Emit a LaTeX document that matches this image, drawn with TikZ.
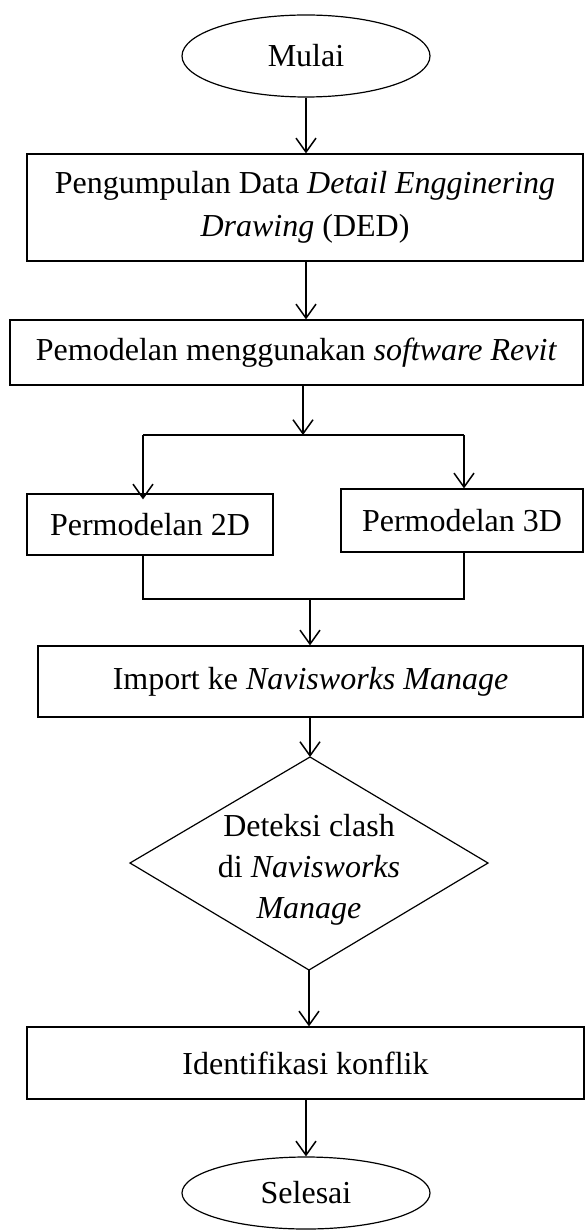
\documentclass[tikz,border=0pt]{standalone}
\usepackage{fontspec}
\setmainfont{Liberation Serif}
\usetikzlibrary{arrows.meta,shapes.geometric}
\begin{document}
\begin{tikzpicture}[x=1pt,y=-1pt,
  every node/.style={font=\fontsize{32}{43}\selectfont},
  procbox/.style={draw,line width=1.2pt,rectangle,inner sep=0pt,align=center},
  termin/.style={draw,line width=1.2pt,ellipse,inner sep=0pt},
  flow/.style={line width=1.5pt,-{Straight Barb[length=14pt,width=20pt,line width=1.5pt]}},
  wire/.style={line width=1.5pt}]
\useasboundingbox (0,0) rectangle (585,1230);
% nodes
\node[termin,minimum width=248pt,minimum height=82pt] (mulai) at (306,56) {Mulai};
\node[procbox,minimum width=556pt,minimum height=107pt] (ded) at (305,207.5)
  {Pengumpulan Data \textit{Detail Engginering}\\ \textit{Drawing} (DED)};
\node[procbox,minimum width=573pt,minimum height=65pt] (revit) at (296.5,352.5)
  {Pemodelan menggunakan \textit{software Revit}};
\node[procbox,minimum width=246pt,minimum height=61pt] (dua) at (150,524.5) {Permodelan 2D};
\node[procbox,minimum width=242pt,minimum height=63pt] (tiga) at (462,520.5) {Permodelan 3D};
\node[procbox,minimum width=545pt,minimum height=71pt] (imp) at (310.5,681.5)
  {Import ke \textit{Navisworks Manage}};
\coordinate (dtop) at (310,757);
\coordinate (dleft) at (130,863);
\coordinate (dright) at (488,863);
\coordinate (dbot) at (309,970);
\draw[line width=1.2pt] (dtop) -- (dright) -- (dbot) -- (dleft) -- cycle;
\node[align=center,inner sep=0pt,font=\fontsize{32}{41}\selectfont] (deteksi) at (309,870)
  {Deteksi clash\\ di \textit{Navisworks}\\ \textit{Manage}};
\node[procbox,minimum width=557pt,minimum height=72pt] (ident) at (305.5,1063)
  {Identifikasi konflik};
\node[termin,minimum width=248pt,minimum height=72pt] (selesai) at (306,1193) {Selesai};
% split / merge points
\coordinate (split) at (303,435);
\coordinate (sL) at (143,435);
\coordinate (sR) at (464,435);
\coordinate (mL) at (143,599);
\coordinate (mR) at (464,599);
\coordinate (mC) at (310,599);
% connectors
\draw[flow] (mulai.south) -- (mulai.south |- ded.north);
\draw[flow] (ded.south -| mulai.south) -- (mulai.south |- revit.north);
\draw[flow] (revit.south -| split) -- (split);
\draw[wire] (sL) -- (sR);
\draw[flow] (sL) -- ([yshift=-6pt]sL |- dua.north);
\draw[flow] (sR) -- (sR |- tiga.north);
\draw[wire] (sL |- dua.south) -- (mL) -- (mR) -- (sR |- tiga.south);
\draw[flow] (mC) -- (mC |- imp.north);
\draw[flow] (imp.south -| dtop) -- (dtop);
\draw[flow] (dbot) -- (dbot |- ident.north);
\draw[flow] (ident.south -| selesai.north) -- (selesai.north);
\end{tikzpicture}
\end{document}
